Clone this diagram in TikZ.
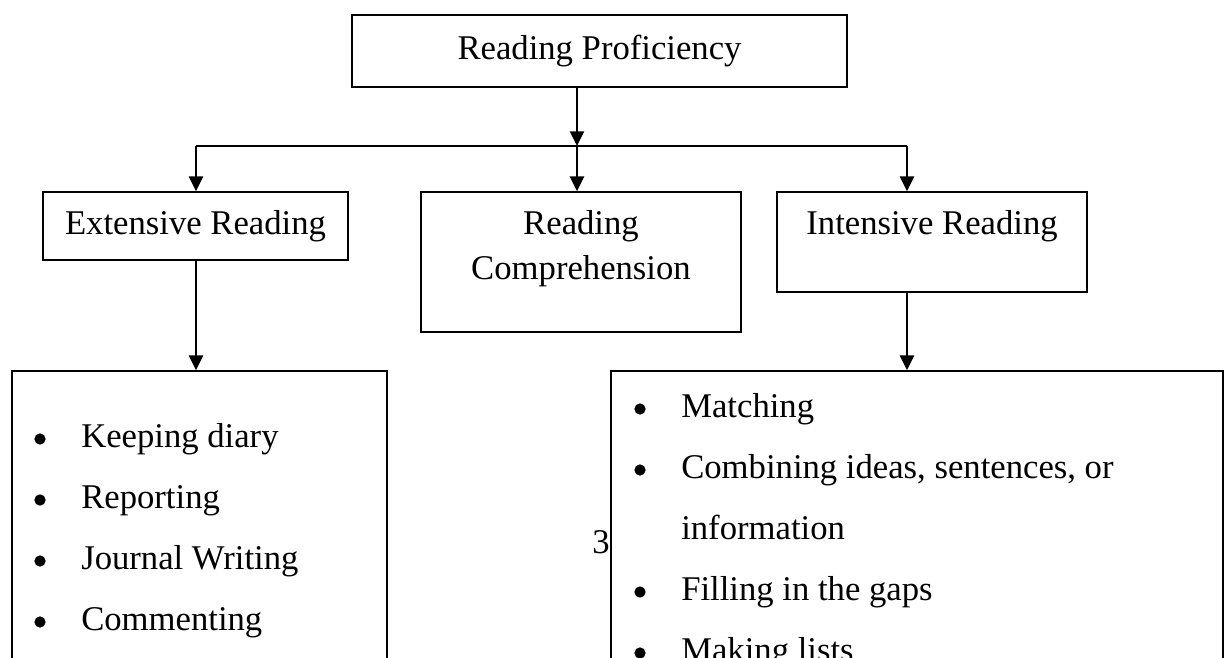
\documentclass[tikz,border=0pt]{standalone}
\usepackage{fontspec}
\setmainfont{Liberation Serif}
\usetikzlibrary{arrows.meta}
\begin{document}
\begin{tikzpicture}[x=0.75pt,y=-0.75pt,
  box/.style={draw=black,line width=1.3pt,fill=white,inner sep=0pt},
  conn/.style={line width=1.6pt},
  arr/.style={conn,-{Triangle[length=11pt,width=10.5pt]}},
  txt/.style={font=\fontsize{26}{34}\selectfont,inner sep=0pt},
  bul/.style={circle,fill=black,inner sep=0pt,minimum size=8.5pt}]
\useasboundingbox (0,0) rectangle (1227,657);
\clip (0,0) rectangle (1227,657);
% top box
\node[box,txt,minimum width=371.25pt,minimum height=54pt] (top) at (599.5,51) {Reading Proficiency};
% second row
\node[box,txt,minimum width=228.75pt,minimum height=51pt] (ext) at (195.5,226) {Extensive Reading};
\node[box,minimum width=240pt,minimum height=105pt] (rc) at (581,262) {};
\node[txt,anchor=base] (rcA) at (581,234) {Reading};
\node[txt,anchor=base] (rcB) at (581,279) {Comprehension};
\node[box,minimum width=232.5pt,minimum height=75pt] (int) at (932,242) {};
\node[txt,anchor=base] (intT) at (932,234) {Intensive Reading};
% page number behind right box
\node[txt,anchor=base west] (pg) at (592,553) {32};
% bottom boxes
\node[box,minimum width=281.25pt,minimum height=261.75pt] (bL) at (199.5,545.5) {};
\node[box,minimum width=459pt,minimum height=261.75pt] (bR) at (917,545.5) {};
% junctions
\coordinate (jL) at (196,146);
\coordinate (jM) at (577,146);
\coordinate (jR) at (907,146);
% connectors
\draw[arr] (top.south -| jM) -- (jM);
\draw[conn] (jL) -- (jR);
\draw[arr] (jL) -- (ext.north -| jL);
\draw[arr] (jM) -- (rc.north -| jM);
\draw[arr] (jR) -- (int.north -| jR);
\draw[arr] (ext.south -| jL) -- (bL.north -| jL);
\draw[arr] (int.south -| jR) -- (bR.north -| jR);
% left list
\node[bul] (l1) at (40,439) {};
\node[txt,anchor=base west] (t1) at (81,447) {Keeping diary};
\node[bul] (l2) at (40,500) {};
\node[txt,anchor=base west] (t2) at (81,508) {Reporting};
\node[bul] (l3) at (40,561) {};
\node[txt,anchor=base west] (t3) at (81,569) {Journal Writing};
\node[bul] (l4) at (40,622) {};
\node[txt,anchor=base west] (t4) at (81,630) {Commenting};
% right list
\node[bul] (r1) at (640,409) {};
\node[txt,anchor=base west] (s1) at (681,417) {Matching};
\node[bul] (r2) at (640,470) {};
\node[txt,anchor=base west] (s2) at (681,478) {Combining ideas, sentences, or};
\node[txt,anchor=base west] (s3) at (681,539) {information};
\node[bul] (r4) at (640,592) {};
\node[txt,anchor=base west] (s4) at (681,600) {Filling in the gaps};
\node[bul] (r5) at (640,653) {};
\node[txt,anchor=base west] (s5) at (681,661) {Making lists};
\end{tikzpicture}
\end{document}
